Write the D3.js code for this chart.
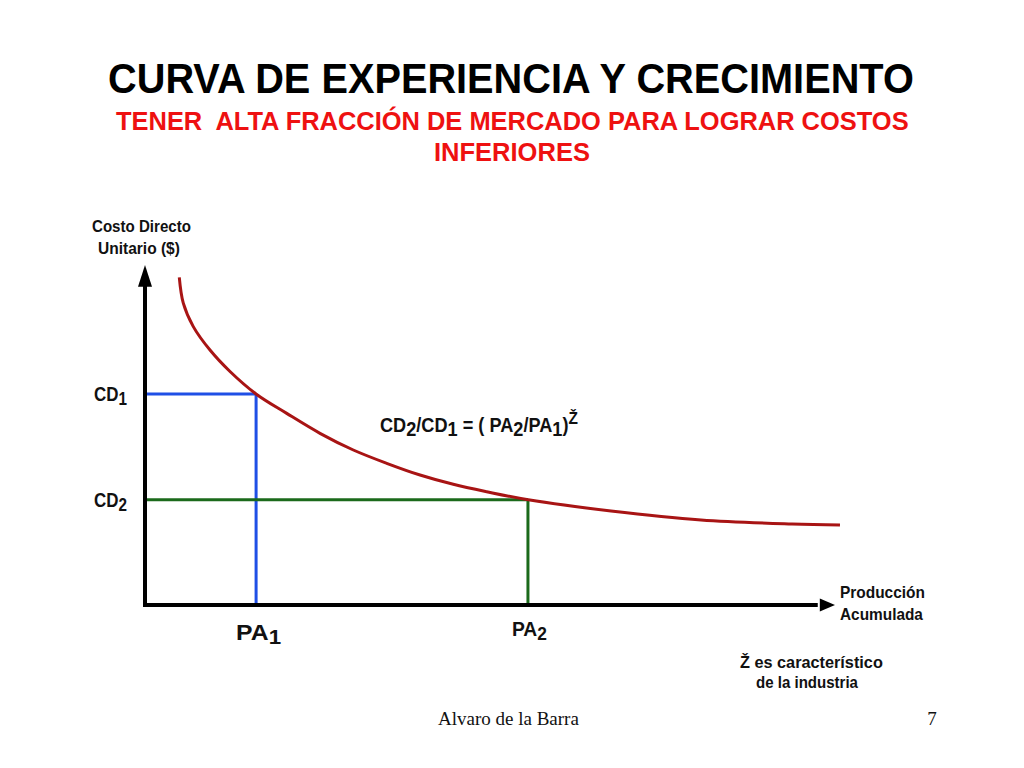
<!DOCTYPE html>
<html><head><meta charset="utf-8">
<script src="https://cdn.jsdelivr.net/npm/d3@7"></script>
<style>body{margin:0;background:#fff}svg{display:block}text{white-space:pre}</style>
</head><body>
<script>
// Experience curve (abstract units: accumulated production 0-100, unit cost 0-100)
const curveProduction = [4.97, 5.55, 7.0, 9.42, 12.32, 16.09, 20.54, 25.36, 30.19, 35.03, 39.86, 44.68, 49.52, 55.55, 67.54, 80.58, 93.77, 100.72];
const curveCost       = [97.8, 90.1, 83.1, 76.1, 69.7, 63.0, 57.2, 51.25, 46.27, 42.3, 38.8, 36.03, 33.82, 31.4, 28.06, 25.37, 24.18, 23.88];
const paLevels = [16.1, 55.5];   // PA1, PA2
const cdLevels = [63.0, 31.4];   // CD1, CD2
const paLabels = ["PA", "PA"];
const cdLabels = ["CD", "CD"];
const subIdx = ["1", "2"];
const titleText = "CURVA DE EXPERIENCIA Y CRECIMIENTO";
const subtitleLines = ["TENER  ALTA FRACCIÓN DE MERCADO PARA LOGRAR COSTOS", "INFERIORES"];
const yAxisTitle = ["Costo Directo", "Unitario ($)"];
const xAxisTitle = ["Producción", "Acumulada"];
const noteLines = ["Ž es característico", "de la industria"];
const footerLeft = "Alvaro de la Barra";
const footerRight = "7";

const W = 1024, H = 768;
const svg = d3.select("body").append("svg").attr("width", W).attr("height", H);

const x = d3.scaleLinear().domain([0, 100]).range([145, 835]);
const y = d3.scaleLinear().domain([0, 100]).range([605, 270]);

const SANS = "'Liberation Sans', Arial, Helvetica, sans-serif";

// fit a text element horizontally into [x0, x0+w] with baseline yb
function fit(sel, x0, yb, w) {
  sel.attr("x", 0).attr("y", 0).attr("text-anchor", "start");
  const len = sel.node().getComputedTextLength();
  sel.attr("transform", `translate(${x0},${yb}) scale(${w / len},1)`);
  return sel;
}
function boldText(s, size, fill) {
  return svg.append("text").text(s).attr("font-family", SANS).attr("font-weight", "bold")
    .attr("font-size", size).attr("fill", fill || "#111");
}

// Title
fit(boldText(titleText, 42, "#000"), 108, 93, 806);
fit(boldText(subtitleLines[0], 26, "#ee1111"), 116, 130, 793);
fit(boldText(subtitleLines[1], 26, "#ee1111"), 434, 161, 156);

// Reference lines (blue: PA1/CD1, green: PA2/CD2)
const refColors = ["#1f4fe6", "#1b6a1b"];
paLevels.forEach((pa, i) => {
  const g = svg.append("g").attr("stroke", refColors[i]).attr("stroke-width", 3).attr("fill", "none");
  g.append("line").attr("x1", x(0)).attr("x2", x(pa)).attr("y1", y(cdLevels[i])).attr("y2", y(cdLevels[i]));
  g.append("line").attr("x1", x(pa)).attr("x2", x(pa)).attr("y1", y(cdLevels[i])).attr("y2", y(0));
});

// Curve
const pts = curveProduction.map((p, i) => [p, curveCost[i]]);
svg.append("path").datum(pts)
  .attr("d", d3.line().x(d => x(d[0])).y(d => y(d[1])).curve(d3.curveCatmullRom.alpha(0.5)))
  .attr("fill", "none").attr("stroke", "#a81414").attr("stroke-width", 3);

// Axes
svg.append("path").attr("d", `M${x(0)},${y(95.5)} L${x(0)},${y(0)} L${x(97.5)},${y(0)}`)
  .attr("fill", "none").attr("stroke", "#000").attr("stroke-width", 4).attr("stroke-linejoin", "miter");
svg.append("path").attr("d", `M${x(0)},${y(101.5)} L${x(0) - 7},${y(95)} L${x(0) + 7},${y(95)} Z`).attr("fill", "#000");
svg.append("path").attr("d", `M${x(100)},${y(0)} L${x(97.8)},${y(0) - 6.5} L${x(97.8)},${y(0) + 6.5} Z`).attr("fill", "#000");

// Subscripted labels
function subLabel(base, sub, x0, yb, w, size) {
  const t = boldText("", size);
  t.append("tspan").text(base);
  t.append("tspan").text(sub).attr("dy", size * 0.2).attr("font-size", size * 0.9);
  fit(t, x0, yb, w);
}
cdLevels.forEach((cd, i) => subLabel(cdLabels[i], subIdx[i], 94, y(cd) + 7, 33, 21));
subLabel(paLabels[0], subIdx[0], x(paLevels[0]) - 20, 640, 45, 22);
subLabel(paLabels[1], subIdx[1], x(paLevels[1]) - 16, 636, 35, 20);

// Axis titles
yAxisTitle.forEach((s, i) => fit(boldText(s, 17), i ? 98 : 92, i ? 254 : 232, i ? 82 : 99));
xAxisTitle.forEach((s, i) => fit(boldText(s, 17), 840, i ? 620 : 598, i ? 83 : 85));
noteLines.forEach((s, i) => fit(boldText(s, 17), i ? 756 : 740, i ? 688 : 668, i ? 102 : 143));

// Formula
{
  const t = boldText("", 20);
  t.append("tspan").text("CD");
  t.append("tspan").text("2").attr("dy", 4);
  t.append("tspan").text("/CD").attr("dy", -4);
  t.append("tspan").text("1").attr("dy", 4);
  t.append("tspan").text(" = ( PA").attr("dy", -4);
  t.append("tspan").text("2").attr("dy", 4);
  t.append("tspan").text("/PA").attr("dy", -4);
  t.append("tspan").text("1").attr("dy", 4);
  t.append("tspan").text(")").attr("dy", -4);
  t.append("tspan").text("Ž").attr("dy", -8).attr("font-size", 17);
  fit(t, 380, 432, 198);
}

// Footer
svg.append("text").text(footerLeft).attr("x", 438).attr("y", 725)
  .attr("font-family", "'Liberation Serif', 'Times New Roman', serif").attr("font-size", 19).attr("fill", "#111");
svg.append("text").text(footerRight).attr("x", 932).attr("y", 725).attr("text-anchor", "middle")
  .attr("font-family", "'Liberation Serif', 'Times New Roman', serif").attr("font-size", 19).attr("fill", "#111");
</script>
</body></html>
